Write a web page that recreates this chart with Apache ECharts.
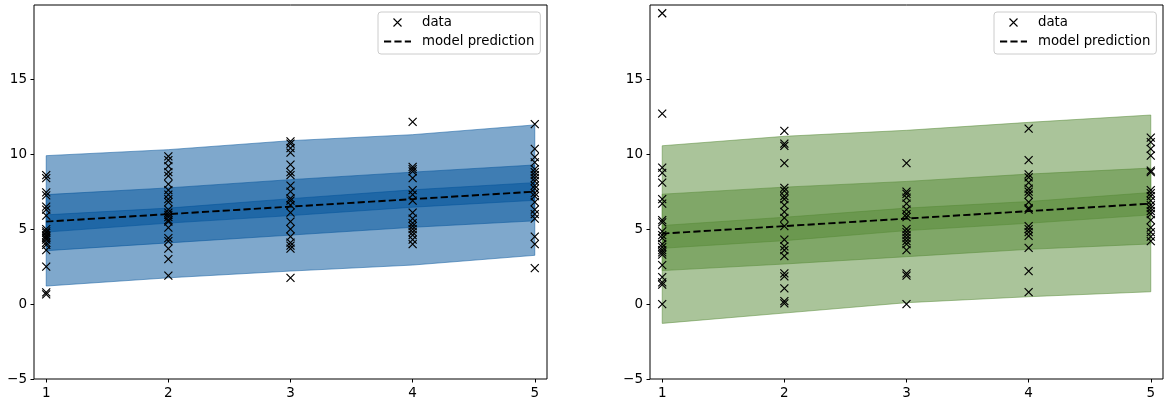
<!DOCTYPE html>
<html>
<head>
<meta charset="utf-8">
<script src="https://cdn.jsdelivr.net/npm/echarts@6/dist/echarts.min.js"></script>
<style>
  html, body { margin: 0; padding: 0; background: #fff; }
  #chart { width: 1169px; height: 404px; }
</style>
</head>
<body>
<div id="chart"></div>
<script>
// tick positions
var X_TICKS = [1, 2, 3, 4, 5];
var Y_TICKS = [-5, 0, 5, 10, 15];
var BAND_X = [1, 2, 3, 4, 5];

// left panel (blue): observations per x
var leftPts1 = [8.6, 8.4, 7.45, 7.25, 6.5, 6.3, 5.9, 5.0, 4.85, 4.75, 4.6, 4.5, 4.4, 4.3, 4.1, 3.95, 3.6, 2.5, 0.78, 0.65];
var leftPts2 = [9.85, 9.6, 9.2, 8.8, 8.55, 8.0, 7.6, 7.3, 7.0, 6.8, 6.3, 6.1, 5.95, 5.8, 5.6, 5.5, 5.1, 4.4, 4.2, 3.7, 3.0, 1.9];
var leftPts3 = [10.85, 10.7, 10.4, 10.1, 9.3, 8.8, 8.6, 7.9, 7.5, 7.05, 6.9, 6.6, 6.1, 5.5, 5.0, 4.5, 4.1, 3.9, 3.7, 1.75];
var leftPts4 = [12.15, 9.15, 9.0, 8.85, 8.4, 7.6, 7.3, 6.9, 6.1, 5.7, 5.4, 5.2, 5.0, 4.8, 4.6, 4.3, 4.0];
var leftPts5 = [12.0, 10.35, 9.8, 9.45, 9.0, 8.8, 8.6, 8.4, 8.2, 7.9, 7.7, 7.4, 7.2, 6.8, 6.3, 6.0, 5.7, 4.5, 4.0, 2.4];

// left panel: prediction and bands
var leftMean = [5.5, 6.0, 6.5, 7.0, 7.5];
var leftOuterHi = [9.9, 10.3, 10.9, 11.3, 11.95];
var leftOuterLo = [1.2, 1.75, 2.2, 2.6, 3.25];
var leftMidHi = [7.3, 7.75, 8.3, 8.8, 9.28];
var leftMidLo = [3.56, 4.08, 4.6, 5.12, 5.55];
var leftInHi = [5.95, 6.4, 7.03, 7.62, 8.1];
var leftInLo = [4.8, 5.4, 5.9, 6.46, 6.92];

// right panel (green): observations per x
var rightPts1 = [19.4, 12.7, 9.1, 8.75, 8.1, 7.0, 6.7, 5.6, 5.45, 4.85, 4.6, 4.4, 4.0, 3.8, 3.6, 3.45, 3.3, 2.6, 1.8, 1.45, 1.3, 0.0];
var rightPts2 = [11.55, 10.7, 10.55, 9.4, 7.75, 7.55, 7.2, 7.0, 6.6, 6.15, 5.75, 5.2, 4.3, 3.85, 3.6, 3.2, 2.05, 1.85, 1.05, 0.2, 0.05];
var rightPts3 = [9.4, 7.5, 7.35, 7.1, 6.7, 6.3, 6.0, 5.8, 5.0, 4.8, 4.6, 4.4, 4.2, 4.0, 3.6, 2.05, 1.9, 0.0];
var rightPts4 = [11.7, 9.6, 8.65, 8.45, 8.1, 7.7, 7.5, 7.3, 6.8, 6.4, 6.3, 5.2, 5.0, 4.8, 4.55, 3.75, 2.2, 0.8];
var rightPts5 = [11.1, 10.8, 10.35, 9.9, 8.9, 8.8, 7.6, 7.4, 7.2, 6.9, 6.6, 6.4, 6.2, 6.0, 5.6, 5.1, 4.8, 4.5, 4.2];

// right panel: prediction and bands
var rightMean = [4.7, 5.2, 5.7, 6.2, 6.7];
var rightOuterHi = [10.56, 11.19, 11.59, 12.12, 12.61];
var rightOuterLo = [-1.29, -0.6, 0.09, 0.49, 0.82];
var rightMidHi = [7.33, 7.8, 8.18, 8.67, 9.07];
var rightMidLo = [2.23, 2.67, 3.16, 3.65, 4.01];
var rightInHi = [5.24, 5.79, 6.4, 6.84, 7.44];
var rightInLo = [3.72, 4.23, 4.9, 5.39, 5.95];

var FONT = 'DejaVu Sans';
var CROSS = 'path://M0,0L10,10M10,0L0,10';

function points(cols) {
    var out = [];
    cols.forEach(function (vals, i) {
        vals.forEach(function (v) { out.push([X_TICKS[i], v]); });
    });
    return out;
}

function pairs(xs, ys) {
    return xs.map(function (x, i) { return [x, ys[i]]; });
}

// polygon between two curves, drawn through the axis scales
function band(idx, hi, lo, color) {
    return {
        type: 'custom',
        xAxisIndex: idx,
        yAxisIndex: idx,
        silent: true,
        clip: true,
        data: [0],
        renderItem: function (params, api) {
            var pts = [];
            for (var i = 0; i < BAND_X.length; i++) pts.push(api.coord([BAND_X[i], hi[i]]));
            for (var j = BAND_X.length - 1; j >= 0; j--) pts.push(api.coord([BAND_X[j], lo[j]]));
            return {
                type: 'polygon',
                shape: { points: pts },
                style: { fill: color, stroke: color, lineWidth: 1 }
            };
        }
    };
}

function xAxis(idx) {
    return {
        type: 'value', gridIndex: idx, min: 0.9, max: 5.1,
        splitLine: { show: false },
        axisLine: { show: false, onZero: false },
        axisTick: { show: true, length: 3.5, lineStyle: { color: '#000' }, customValues: X_TICKS },
        axisLabel: { color: '#000', fontFamily: FONT, fontSize: 13.5, margin: 7, customValues: X_TICKS }
    };
}

function yAxis(idx) {
    return {
        type: 'value', gridIndex: idx, min: -5, max: 19.95,
        splitLine: { show: false },
        axisLine: { show: false, onZero: false },
        axisTick: { show: true, length: 3.5, lineStyle: { color: '#000' }, customValues: Y_TICKS },
        axisLabel: {
            color: '#000', fontFamily: FONT, fontSize: 13.5, margin: 7, customValues: Y_TICKS,
            formatter: function (v) { return String(v).replace('-', '\u2212'); }
        }
    };
}

function legend(left) {
    return {
        left: left, top: 12, orient: 'vertical', align: 'left',
        data: [
            { name: 'data', itemStyle: { borderWidth: 1.1 } },
            { name: 'model prediction', itemStyle: { color: 'rgba(0,0,0,0)', borderWidth: 0, opacity: 0 } }
        ],
        itemWidth: 27, itemHeight: 8, itemGap: 6,
        padding: [4, 6, 6, 5],
        backgroundColor: 'rgba(255,255,255,0.8)',
        borderColor: '#cccccc', borderWidth: 1, borderRadius: 3,
        textStyle: { color: '#000', fontFamily: FONT, fontSize: 13.3, padding: [0, 0, 0, 6] }
    };
}

function scatter(idx, cols) {
    return {
        name: 'data', type: 'scatter', xAxisIndex: idx, yAxisIndex: idx,
        symbol: CROSS, symbolSize: 8, symbolKeepAspect: true,
        itemStyle: { color: 'none', borderColor: '#000', borderWidth: 1.2, opacity: 1 },
        data: points(cols), z: 3
    };
}

function meanLine(idx, ys) {
    return {
        name: 'model prediction', type: 'line', xAxisIndex: idx, yAxisIndex: idx,
        symbol: 'none', data: pairs(X_TICKS, ys), z: 4,
        lineStyle: { color: '#000', width: 1.9, type: [7.2, 3.2] },
        itemStyle: { color: '#000' }
    };
}

var BLUE = 'rgba(0,81,153,0.5)';
var GREEN = 'rgba(85,137,53,0.5)';

var chart = echarts.init(document.getElementById('chart'));
chart.setOption({
    animation: false,
    grid: [
        { left: 34, top: 5, width: 513, height: 374, show: true, borderColor: '#000', borderWidth: 1, backgroundColor: '#fff' },
        { left: 650, top: 5, width: 513, height: 374, show: true, borderColor: '#000', borderWidth: 1, backgroundColor: '#fff' }
    ],
    xAxis: [xAxis(0), xAxis(1)],
    yAxis: [yAxis(0), yAxis(1)],
    legend: [legend(378), legend(994)],
    series: [
        band(0, leftOuterHi, leftOuterLo, BLUE),
        band(0, leftMidHi, leftMidLo, BLUE),
        band(0, leftInHi, leftInLo, BLUE),
        scatter(0, [leftPts1, leftPts2, leftPts3, leftPts4, leftPts5]),
        meanLine(0, leftMean),
        band(1, rightOuterHi, rightOuterLo, GREEN),
        band(1, rightMidHi, rightMidLo, GREEN),
        band(1, rightInHi, rightInLo, GREEN),
        scatter(1, [rightPts1, rightPts2, rightPts3, rightPts4, rightPts5]),
        meanLine(1, rightMean)
    ]
});
</script>
</body>
</html>
